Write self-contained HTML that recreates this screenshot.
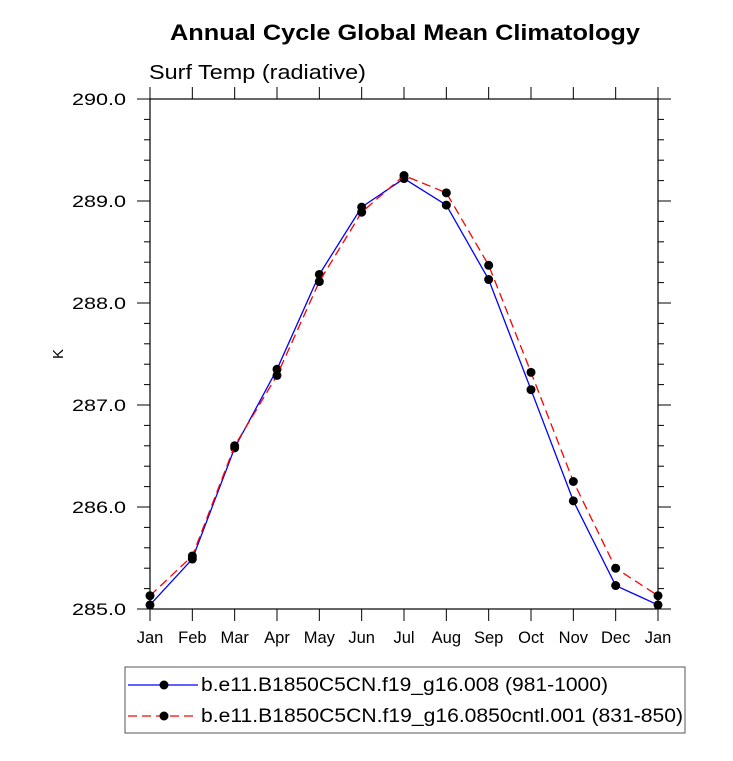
<!DOCTYPE html>
<html><head><meta charset="utf-8"><style>
body{margin:0;background:#fff;}
text{font-family:"Liberation Sans",sans-serif;}
</style></head><body>
<svg id="c" width="733" height="756" xmlns="http://www.w3.org/2000/svg">
<text x="170" y="40" font-size="22" font-weight="bold" textLength="470" lengthAdjust="spacingAndGlyphs">Annual Cycle Global Mean Climatology</text>
<text x="149" y="79" font-size="20" textLength="217" lengthAdjust="spacingAndGlyphs">Surf Temp (radiative)</text>
<text x="63" y="354" font-size="15" text-anchor="middle" transform="rotate(-90 63 354)">K</text>
<g id="axes"></g>
<g id="series"></g>
<rect x="125" y="667" width="560" height="66" fill="none" stroke="#555" stroke-width="1"/>
<g>
<line x1="128" y1="685" x2="198" y2="685" stroke="#00f" stroke-width="1.3"/>
<circle cx="164" cy="685" r="4.5" fill="#000"/>
<text x="201" y="691" font-size="19" textLength="407" lengthAdjust="spacingAndGlyphs">b.e11.B1850C5CN.f19_g16.008 (981-1000)</text>
</g>
<g>
<line x1="128" y1="716" x2="198" y2="716" stroke="#f00" stroke-width="1.3" stroke-dasharray="9,5"/>
<circle cx="164" cy="716" r="4.5" fill="#000"/>
<text x="201" y="722" font-size="19" textLength="482" lengthAdjust="spacingAndGlyphs">b.e11.B1850C5CN.f19_g16.0850cntl.001 (831-850)</text>
</g>
</svg>
<script>
const months=["Jan","Feb","Mar","Apr","May","Jun","Jul","Aug","Sep","Oct","Nov","Dec","Jan"];
const series1=[285.04,285.49,286.58,287.35,288.28,288.94,289.22,288.96,288.23,287.15,286.06,285.23,285.04];
const series2=[285.13,285.52,286.60,287.29,288.21,288.89,289.25,289.08,288.37,287.32,286.25,285.40,285.13];
const yTicks=[285,286,287,288,289,290];
const yTickLabels=["285.0","286.0","287.0","288.0","289.0","290.0"];
const L=150,R=658,T=99,B=609,ymin=285,ymax=290;
const ns="http://www.w3.org/2000/svg";
const xs=i=>L+(R-L)*i/(months.length-1);
const ys=v=>B-(v-ymin)/(ymax-ymin)*(B-T);
function mk(tag,at,parent){const e=document.createElementNS(ns,tag);for(const k in at)e.setAttribute(k,at[k]);parent.appendChild(e);return e;}
const ax=document.getElementById('axes');
const frame=mk('rect',{x:L,y:T,width:R-L,height:B-T,fill:'none',stroke:'#000','stroke-width':1.2},ax);


months.forEach((m,i)=>{
 const x=xs(i);
 mk('line',{x1:x,y1:B,x2:x,y2:B+12,stroke:'#000'},ax);
 mk('line',{x1:x,y1:T,x2:x,y2:T-12,stroke:'#000'},ax);
 const t=mk('text',{x:x,y:B+34,'font-size':16.5,'text-anchor':'middle'},ax);
 t.textContent=m;
 
 
});
for(let v=ymin;v<=ymax+1e-9;v+=0.2){
 const y=ys(v);const major=Math.abs(v-Math.round(v))<1e-6;const len=major?13:6;
 mk('line',{x1:L-len,y1:y,x2:L,y2:y,stroke:'#000'},ax);
 mk('line',{x1:R,y1:y,x2:R+len,y2:y,stroke:'#000'},ax);
}
yTicks.forEach((v,i)=>{
 const t=mk('text',{x:72,y:ys(v)+6,'font-size':17,textLength:54,lengthAdjust:'spacingAndGlyphs'},ax);
 t.textContent=yTickLabels[i];
 
 
});
const sg=document.getElementById('series');
function draw(data,color,dash,name){
 const g=mk('g',{},sg);
 
 
 const p=mk('polyline',{points:data.map((v,i)=>xs(i)+','+ys(v)).join(' '),fill:'none',stroke:color,'stroke-width':1.3},g);
 if(dash)p.setAttribute('stroke-dasharray',dash);
 data.forEach((v,i)=>{const c=mk('circle',{cx:xs(i),cy:ys(v),r:4.5,fill:'#000'},g);
  
  });
}
draw(series1,'#00f',null,'series-008');
draw(series2,'#f00','9,5','series-0850cntl');
</script>
</body></html>
